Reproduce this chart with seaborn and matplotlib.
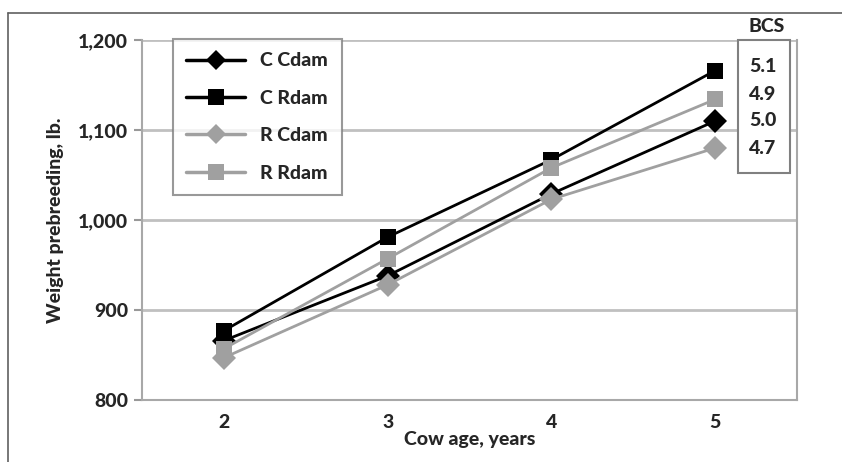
import pandas as pd
import matplotlib.pyplot as plt
import seaborn as sns
from matplotlib.patches import Rectangle

# Data
ages = [2, 3, 4, 5]
c_cdam = [866, 938, 1029, 1110]
c_rdam = [877, 981, 1067, 1166]
r_cdam = [847, 928, 1023, 1080]
r_rdam = [857, 957, 1058, 1134]
groups = ['C Cdam', 'C Rdam', 'R Cdam', 'R Rdam']
bcs = ['5.1', '4.9', '5.0', '4.7']

df = pd.DataFrame({
    'age': ages * 4,
    'weight': c_cdam + c_rdam + r_cdam + r_rdam,
    'group': [g for g in groups for _ in ages],
})

sns.set_style('white')
plt.rcParams['font.family'] = ['Lato', 'DejaVu Sans']
W = 'black'  # heavy font weight

fig = plt.figure(figsize=(8.42, 4.62), dpi=100)
ax = fig.add_axes([142 / 842, 62 / 462, 655 / 842, 360 / 462])

palette = {'C Cdam': 'black', 'C Rdam': 'black', 'R Cdam': '#a0a0a0', 'R Rdam': '#a0a0a0'}
markers = {'C Cdam': 'D', 'C Rdam': 's', 'R Cdam': 'D', 'R Rdam': 's'}
sns.lineplot(data=df, x='age', y='weight', hue='group', style='group',
             palette=palette, markers=markers, dashes=False, linewidth=2,
             markersize=12, markeredgewidth=0, ax=ax, legend=False, zorder=3)

ax.set_xlim(1.5, 5.5)
ax.set_ylim(800, 1200)
ax.set_yticks([800, 900, 1000, 1100, 1200])
ax.set_yticklabels(['800', '900', '1,000', '1,100', '1,200'])
ax.set_xticks(ages)
ax.set_xticks([1.5, 2.5, 3.5, 4.5, 5.5], minor=True)
ax.tick_params(axis='x', which='major', length=0, labelsize=14, pad=10)
ax.tick_params(axis='x', which='minor', length=6, width=1.5, color='#999999', direction='out')
ax.tick_params(axis='y', length=6, width=1.5, color='#999999', labelsize=14, pad=4, left=True)
for lab in ax.get_xticklabels() + ax.get_yticklabels():
    lab.set_fontweight(W)
ax.grid(axis='y', color='#c0c0c0', linewidth=2)
ax.set_axisbelow(True)
for s in ax.spines.values():
    s.set_color('#a8a8a8')
    s.set_linewidth(1.5)
ax.spines['top'].set_visible(False)
ax.set_xlabel('Cow age, years', fontsize=14, fontweight=W, labelpad=0)
ax.set_ylabel('Weight prebreeding, lb.', fontsize=14, fontweight=W, labelpad=10)

# legend
handles = [plt.Line2D([], [], color=palette[g], marker=markers[g], lw=2.5,
                      markersize=12 if markers[g] == 's' else 10, markeredgewidth=0)
           for g in groups]
leg = fig.legend(handles, groups, loc='upper left', bbox_to_anchor=(163 / 842, 1 - 29 / 462),
                 frameon=True, fancybox=False, edgecolor='#808080', handlelength=3.0,
                 labelspacing=1.05, borderpad=0.7, prop={'size': 14, 'weight': W})
leg.get_frame().set_linewidth(1.5)

# BCS box
fig.patches.append(Rectangle((738 / 842, 1 - 173 / 462), 52 / 842, 133 / 462,
                             transform=fig.transFigure, fill=True, facecolor='white',
                             edgecolor='#808080', linewidth=1.5, zorder=5))
fig.text(767 / 842, 1 - 27 / 462, 'BCS', ha='center', va='center', fontsize=14, fontweight=W)
for i, v in enumerate(bcs):
    fig.text(763 / 842, 1 - (67 + 27 * i) / 462, v, ha='center', va='center',
             fontsize=14, fontweight=W, zorder=6)

# outer frame (left and top)
fig.add_artist(plt.Line2D([8 / 842, 8 / 842], [0, 1 - 13 / 462], transform=fig.transFigure,
                          color='#606060', lw=1.2))
fig.add_artist(plt.Line2D([8 / 842, 1], [1 - 13 / 462, 1 - 13 / 462], transform=fig.transFigure,
                          color='#606060', lw=1.2))

fig.savefig('out.png', dpi=100)
